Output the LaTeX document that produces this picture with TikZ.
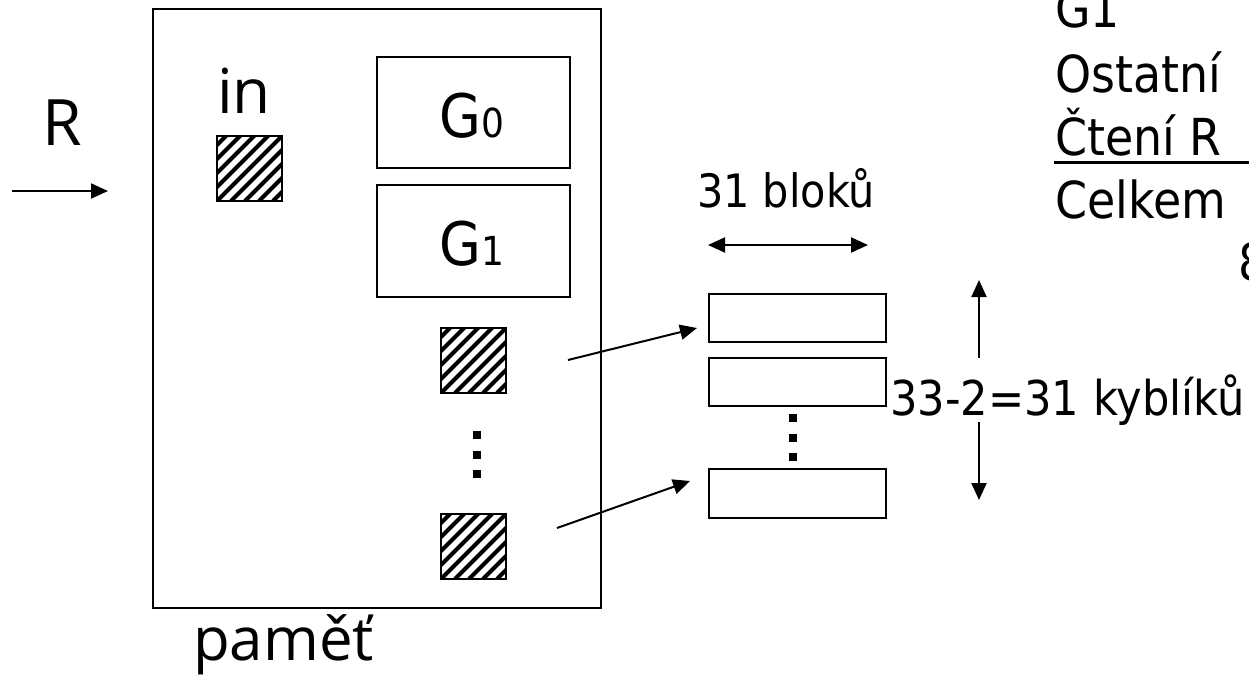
\documentclass[tikz,border=0pt]{standalone}
\usepackage{fontspec}
\usetikzlibrary{arrows.meta}
\newfontfamily\tah[FakeStretch=0.9]{DejaVu Sans}
\newfontfamily\ops{Open Sans}
\newcommand\fsz[1]{\fontsize{#1}{#1}\selectfont}
\begin{document}
\begin{tikzpicture}[x=1pt,y=-1pt,
  box/.style={draw, line width=2pt, inner sep=0pt, anchor=north west},
  txt/.style={inner sep=0pt, anchor=base west},
  ctxt/.style={inner sep=0pt, anchor=base},
  arr/.style={line width=2pt, -{Triangle[length=17pt,width=15pt]}},
  darr/.style={line width=2pt, {Triangle[length=17pt,width=15pt]}-{Triangle[length=17pt,width=15pt]}},
  sqdot/.style={fill, inner sep=0pt, minimum size=8pt},
  hatchbox/.style={draw, line width=2pt, inner sep=0pt, minimum size=65pt, anchor=north west,
    path picture={\foreach \d in {-6,...,6}{\draw[line width=4.2pt] ([xshift=\d*14pt]path picture bounding box.south west) -- ++(80pt,80pt);}}}
]
\useasboundingbox (0,0) rectangle (1249,678);
\clip (0,0) rectangle (1249,678);
\fill[white] (0,0) rectangle (1249,678);

% memory
\node[box, minimum width=448pt, minimum height=599pt] (mem) at (152,8) {};
\node[txt] (pamet) at (193,660) {\ops\fsz{60}paměť};

% input
\node[ctxt] (R) at (62,145) {\ops\fsz{64}R};
\coordinate (rs) at (12,191);
\coordinate (re) at (108,191);
\draw[arr] (rs) -- (re);
\node[ctxt] (in) at (244,113) {\ops\fsz{62}in};
\node[hatchbox] (insq) at (216,135) {};

% G boxes
\node[box, minimum width=193pt, minimum height=111pt] (g0) at (376,56) {};
\node[ctxt] (g0t) at (472,137) {\tah\fsz{60}G\fsz{40}0};
\node[box, minimum width=193pt, minimum height=112pt] (g1) at (376,184) {};
\node[ctxt] (g1t) at (472,265) {\tah\fsz{60}G\fsz{40}1};

% output blocks in memory
\node[hatchbox] (sq2) at (440,327) {};
\node[sqdot] (md1) at (477,435) {};
\node[sqdot] (md2) at (477,455) {};
\node[sqdot] (md3) at (477,474) {};
\node[hatchbox] (sq3) at (440,513) {};

% buckets
\node[txt] (blk) at (697,207) {\tah\fsz{46}31 bloků};
\coordinate (hl) at (708,245);
\coordinate (hr) at (868,245);
\draw[darr] (hl) -- (hr);
\node[box, minimum width=177pt, minimum height=48pt] (b1) at (708,293) {};
\node[box, minimum width=177pt, minimum height=48pt] (b2) at (708,357) {};
\node[sqdot] (bd1) at (793,418) {};
\node[sqdot] (bd2) at (793,438) {};
\node[sqdot] (bd3) at (793,457) {};
\node[box, minimum width=177pt, minimum height=49pt] (b3) at (708,468) {};

\coordinate (a1s) at (568,360);
\coordinate (a1e) at (697,328);
\draw[arr] (a1s) -- (a1e);
\coordinate (a2s) at (557,528);
\coordinate (a2e) at (690,481);
\draw[arr] (a2s) -- (a2e);

% bucket count
\node[txt] (kyb) at (890,415) {\tah\fsz{48}33-2=31 kyblíků};
\coordinate (vu1) at (979,358);
\coordinate (vu2) at (979,280);
\coordinate (vd1) at (979,422);
\coordinate (vd2) at (979,500);
\draw[arr] (vu1) -- (vu2);
\draw[arr] (vd1) -- (vd2);

% cost table (cut at the right edge, as in the reference)
\node[txt] (tg1) at (1055,27) {\tah\fsz{51}G1};
\node[txt] (tost) at (1055,92) {\tah\fsz{51}Ostatní};
\node[txt] (tcr) at (1055,155) {\tah\fsz{51}Čtení R};
\coordinate (ul1) at (1054,162);
\coordinate (ul2) at (1260,162);
\draw[line width=3pt] (ul1) -- (ul2);
\node[txt] (tcel) at (1055,218) {\tah\fsz{51}Celkem};
\node[txt] (t8) at (1238,280) {\tah\fsz{51}8};
\end{tikzpicture}
\end{document}
